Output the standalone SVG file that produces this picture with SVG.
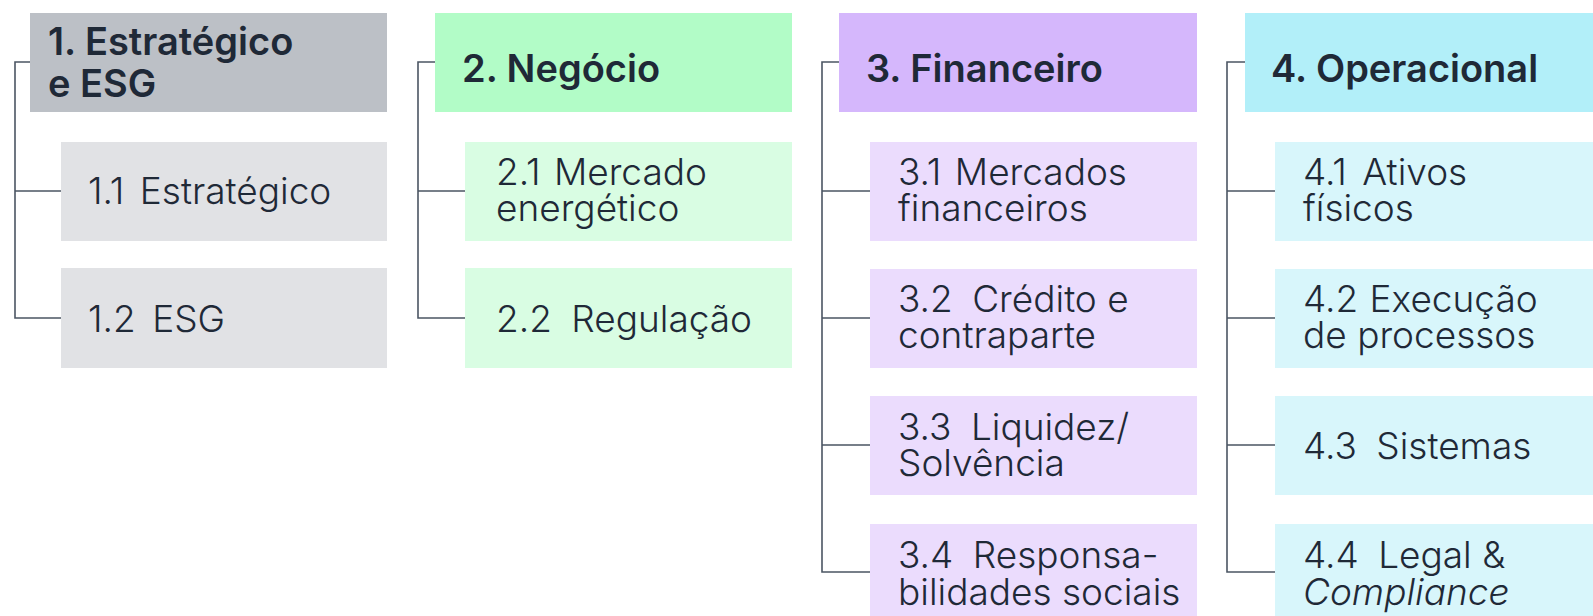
<svg xmlns="http://www.w3.org/2000/svg" width="1593" height="616" viewBox="0 0 1593 616">
<style>
text{font-family:Inter,"Liberation Sans",sans-serif;fill:#1f2937}
.h{font-size:38px;font-weight:600}
.c{font-size:37px;font-weight:300}
.it{font-style:italic}
.conn path{fill:none;stroke:#4b5563;stroke-width:1.6}
.g1h{fill:#bcc0c6}.g1c{fill:#e1e2e5}
.g2h{fill:#b2fcc7}.g2c{fill:#d9fde3}
.g3h{fill:#d5b7fc}.g3c{fill:#ebdcfd}
.g4h{fill:#b2eff9}.g4c{fill:#d8f6fb}
</style>
<rect width="1593" height="616" fill="#ffffff"/>
<g class="conn">
<path d="M30,62H15V318H62M15,191H62"/>
<path d="M435,62H418V318H466M418,191H466"/>
<path d="M839,62H822V572H870M822,191H870M822,318H870M822,445H870"/>
<path d="M1245,62H1227V572H1275M1227,191H1275M1227,318H1275M1227,445H1275"/>
</g>
<g id="n1"><rect class="g1h" x="30" y="13" width="357" height="99"/><text class="h" x="48" y="55">1. Estratégico<tspan x="48" dy="42">e ESG</tspan></text></g>
<g id="n1-1"><rect class="g1c" x="61" y="142" width="326" height="99"/><text class="c" x="88" y="204">1.1 <tspan dx="5">Estratégico</tspan></text></g>
<g id="n1-2"><rect class="g1c" x="61" y="268" width="326" height="100"/><text class="c" x="88" y="332">1.2 <tspan dx="6">ESG</tspan></text></g>
<g id="n2"><rect class="g2h" x="435" y="13" width="357" height="99"/><text class="h" x="462" y="82">2. Negócio</text></g>
<g id="n2-1"><rect class="g2c" x="465" y="142" width="327" height="99"/><text class="c" x="496" y="185">2.1 <tspan dx="3">Mercado</tspan><tspan x="496" dy="36">energético</tspan></text></g>
<g id="n2-2"><rect class="g2c" x="465" y="268" width="327" height="100"/><text class="c" x="496" y="332">2.2 <tspan dx="9">Regulação</tspan></text></g>
<g id="n3"><rect class="g3h" x="839" y="13" width="358" height="99"/><text class="h" x="866" y="82">3. Financeiro</text></g>
<g id="n3-1"><rect class="g3c" x="870" y="142" width="327" height="99"/><text class="c" x="898" y="185">3.1 <tspan dx="3">Mercados</tspan><tspan x="898" dy="36">financeiros</tspan></text></g>
<g id="n3-2"><rect class="g3c" x="870" y="269" width="327" height="99"/><text class="c" x="898" y="312">3.2 <tspan dx="9">Crédito e</tspan><tspan x="898" dy="36">contraparte</tspan></text></g>
<g id="n3-3"><rect class="g3c" x="870" y="396" width="327" height="99"/><text class="c" x="898" y="440">3.3 <tspan dx="9">Liquidez/</tspan><tspan x="898" dy="36">Solvência</tspan></text></g>
<g id="n3-4"><rect class="g3c" x="870" y="524" width="327" height="99"/><text class="c" x="898" y="568">3.4 <tspan dx="9">Responsa-</tspan><tspan x="898" dy="37">bilidades sociais</tspan></text></g>
<g id="n4"><rect class="g4h" x="1245" y="13" width="358" height="99"/><text class="h" x="1271" y="82">4. Operacional</text></g>
<g id="n4-1"><rect class="g4c" x="1275" y="142" width="328" height="99"/><text class="c" x="1303" y="185">4.1 <tspan dx="5">Ativos</tspan><tspan x="1303" dy="36">físicos</tspan></text></g>
<g id="n4-2"><rect class="g4c" x="1275" y="269" width="328" height="99"/><text class="c" x="1303" y="312">4.2 <tspan dx="1">Execução</tspan><tspan x="1303" dy="36">de processos</tspan></text></g>
<g id="n4-3"><rect class="g4c" x="1275" y="396" width="328" height="99"/><text class="c" x="1303" y="459">4.3 <tspan dx="9">Sistemas</tspan></text></g>
<g id="n4-4"><rect class="g4c" x="1275" y="524" width="328" height="99"/><text class="c" x="1303" y="568">4.4 <tspan dx="9">Legal &amp;</tspan><tspan class="it" x="1303" dy="37">Compliance</tspan></text></g>
</svg>
